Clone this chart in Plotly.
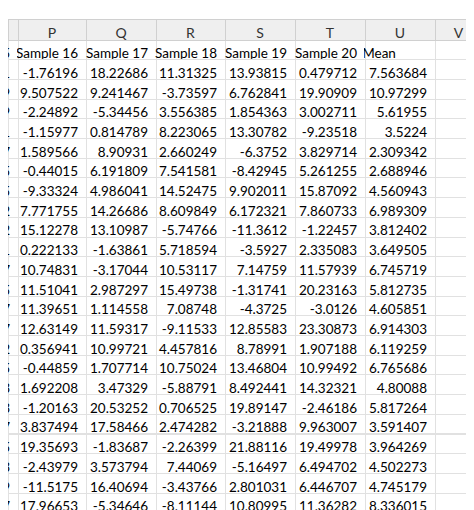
import plotly.graph_objects as go

col_letters = ["", "P", "Q", "R", "S", "T", "U", "V"]
sample_names = ["5", "Sample 16", "Sample 17", "Sample 18", "Sample 19", "Sample 20", "Mean", ""]

# last digit of column O, cut off at the left edge
col_o = ["1", "9", "9", "1", "7", "5", "5", "2", "2", "1", "7", "5", "7", "7", "2", "5", "3", "3", "7", "5", "3", "9", "7"]
sample16 = ["-1.76196", "9.507522", "-2.24892", "-1.15977", "1.589566", "-0.44015", "-9.33324", "7.771755", "15.12278",
            "0.222133", "10.74831", "11.51041", "11.39651", "12.63149", "0.356941", "-0.44859", "1.692208", "-1.20163",
            "3.837494", "19.35693", "-2.43979", "-11.5175", "17.96653"]
sample17 = ["18.22686", "9.241467", "-5.34456", "0.814789", "8.90931", "6.191809", "4.986041", "14.26686", "13.10987",
            "-1.63861", "-3.17044", "2.987297", "1.114558", "11.59317", "10.99721", "1.707714", "3.47329", "20.53252",
            "17.58466", "-1.83687", "3.573794", "16.40694", "-5.34646"]
sample18 = ["11.31325", "-3.73597", "3.556385", "8.223065", "2.660249", "7.541581", "14.52475", "8.609849", "-5.74766",
            "5.718594", "10.53117", "15.49738", "7.08748", "-9.11533", "4.457816", "10.75024", "-5.88791", "0.706525",
            "2.474282", "-2.26399", "7.44069", "-3.43766", "-8.11144"]
sample19 = ["13.93815", "6.762841", "1.854363", "13.30782", "-6.3752", "-8.42945", "9.902011", "6.172321", "-11.3612",
            "-3.5927", "7.14759", "-1.31741", "-4.3725", "12.85583", "8.78991", "13.46804", "8.492441", "19.89147",
            "-3.21888", "21.88116", "-5.16497", "2.801031", "10.80995"]
sample20 = ["0.479712", "19.90909", "3.002711", "-9.23518", "3.829714", "5.261255", "15.87092", "7.860733", "-1.22457",
            "2.335083", "11.57939", "20.23163", "-3.0126", "23.30873", "1.907188", "10.99492", "14.32321", "-2.46186",
            "9.963007", "19.49978", "6.494702", "6.446707", "11.36282"]
mean = ["7.563684", "10.97299", "5.61955", "3.5224", "2.309342", "2.688946", "4.560943", "6.989309", "3.812402",
        "3.649505", "6.745719", "5.812735", "4.605851", "6.914303", "6.119259", "6.765686", "4.80088", "5.817264",
        "3.591407", "3.964269", "4.502273", "4.745179", "8.336015"]

columns = [col_o, sample16, sample17, sample18, sample19, sample20, mean, [""] * len(mean)]
cells = []
for name, col in zip(sample_names, columns):
    name = name.replace(" ", "\u00a0")
    if name == "Mean":
        name = "Mean" + "\u00a0" * 9
    cells.append([name] + col)

fig = go.Figure(go.Table(
    columnwidth=[10, 68, 70, 69, 70, 70, 70, 47],
    header=dict(values=col_letters, height=21, align="center",
                fill_color="#efefef", line_color="#d0d0d0",
                font=dict(family="Lato", size=14, color="#333333")),
    cells=dict(values=cells, height=19.7, align="right",
               fill_color="white", line_color="#e1e1e1",
               font=dict(family="Lato", size=13.5, color="black")),
))

fig.update_layout(width=474, height=510, margin=dict(l=0, r=0, t=11, b=0),
                  paper_bgcolor="white")

fig.write_html("out.html")
